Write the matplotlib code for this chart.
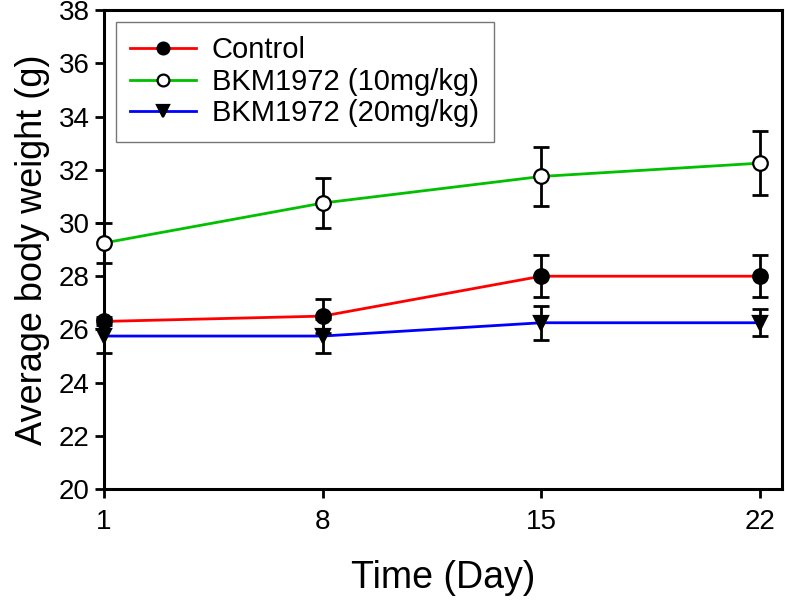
import matplotlib
matplotlib.use("Agg")
import matplotlib.pyplot as plt

plt.rcParams['font.family'] = ['Liberation Sans', 'DejaVu Sans']

days = [1, 8, 15, 22]
control = [26.3, 26.5, 28.0, 28.0]
control_err = [0.15, 0.65, 0.8, 0.8]
bkm10 = [29.25, 30.75, 31.75, 32.25]
bkm10_err = [0.75, 0.95, 1.1, 1.2]
bkm20 = [25.75, 25.75, 26.25, 26.25]
bkm20_err = [0.65, 0.65, 0.63, 0.5]

labels = ['Control', 'BKM1972 (10mg/kg)', 'BKM1972 (20mg/kg)']
yticks = [20, 22, 24, 26, 28, 30, 32, 34, 36, 38]

fig = plt.figure(figsize=(7.85, 6.0), dpi=100)
ax = fig.add_axes([0.1325, 0.185, 0.8635, 0.798])

series = [
    (control, control_err, '#FF0000', 'o', 'black'),
    (bkm10, bkm10_err, '#00C000', 'o', 'white'),
    (bkm20, bkm20_err, '#0000FF', 'v', 'black'),
]
handles = []
for (vals, errs, col, mk, face), lab in zip(series, labels):
    ax.errorbar(days, vals, yerr=errs, fmt='none', ecolor='black',
                elinewidth=2.0, capsize=6, capthick=2.0, zorder=3, clip_on=False)
    ax.plot(days, vals, color=col, lw=2.0, zorder=2, clip_on=False)
    ax.plot(days, vals, linestyle='none', marker=mk, markersize=10.5,
            markerfacecolor=face, markeredgecolor='black', markeredgewidth=1.6,
            zorder=4, clip_on=False)
    h, = ax.plot([], [], color=col, lw=2.0, marker=mk, markersize=8.5,
                 markerfacecolor=face, markeredgecolor='black', markeredgewidth=1.6)
    handles.append(h)

ax.set_xlim(1, 22.7)
ax.set_ylim(20, 38)
ax.set_xticks(days)
ax.set_yticks(yticks)
ax.tick_params(axis='both', direction='out', length=6.5, width=2.0, labelsize=20, pad=8)
ax.tick_params(axis='y', pad=4)
for sp in ax.spines.values():
    sp.set_linewidth(2.2)

ax.set_xlabel('Time (Day)', fontsize=27, labelpad=18)
ax.set_ylabel('Average body weight (g)', fontsize=26, labelpad=6)

leg = ax.legend(handles, labels, loc='upper left', fontsize=21, frameon=True,
                fancybox=False, edgecolor='#555555', handlelength=2.25,
                handletextpad=0.55, labelspacing=0.12, borderpad=0.5,
                borderaxespad=0.4)
leg.get_frame().set_linewidth(1.0)

fig.savefig('out.png', dpi=100)
